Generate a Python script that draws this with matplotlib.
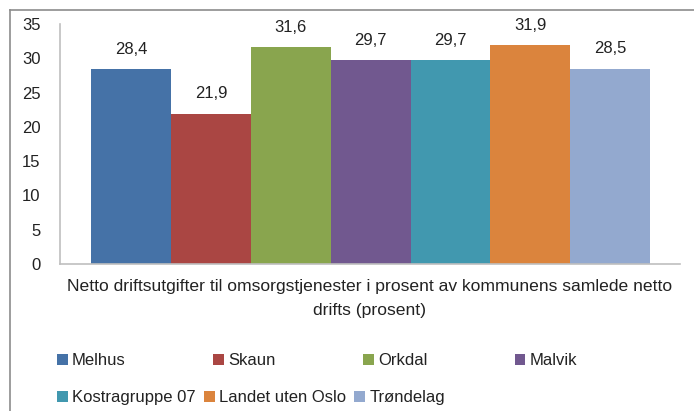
import matplotlib
matplotlib.use('Agg')
import matplotlib.pyplot as plt
from matplotlib.lines import Line2D

# data
categories = ['Melhus', 'Skaun', 'Orkdal', 'Malvik', 'Kostragruppe 07',
              'Landet uten Oslo', 'Trøndelag']
values = [28.4, 21.9, 31.6, 29.7, 29.7, 31.9, 28.5]
colors = ['#4572A7', '#AA4643', '#89A54E', '#71588F', '#4198AF',
          '#DB843D', '#93A9CF']
xlabel = 'Netto driftsutgifter til omsorgstjenester i prosent av kommunens samlede netto\ndrifts (prosent)'
yticks = [0, 5, 10, 15, 20, 25, 30, 35]

plt.rcParams['font.family'] = ['Liberation Sans Narrow', 'Liberation Sans', 'DejaVu Sans']

fig = plt.figure(figsize=(6.94, 4.11), dpi=100)
ax = fig.add_axes([60 / 694, 1 - 264 / 411, 620 / 694, 240 / 411])

x = list(range(len(values)))
bars = ax.bar(x, values, width=1.0, color=colors, edgecolor='none')

for xi, v in zip(x, values):
    ax.annotate(f'{v:.1f}'.replace('.', ','), (xi, v), xytext=(0, 9),
                textcoords='offset points', ha='center', va='bottom',
                fontsize=12, color='#222222')

ax.set_ylim(0, 35)
ax.set_xlim(-0.89, 6.875)
ax.set_yticks(yticks)
ax.set_xticks([])
ax.tick_params(axis='y', length=0, labelsize=12, pad=14, labelcolor='#222222')
for s in ['top', 'right']:
    ax.spines[s].set_visible(False)
for s in ['left', 'bottom']:
    ax.spines[s].set_color('#BFBFBF')
    ax.spines[s].set_linewidth(1.2)
ax.set_xlabel(xlabel, fontsize=12.6, color='#222222', labelpad=11, linespacing=1.7)

# legend, two rows like excel
h = list(bars.patches)
kw = dict(frameon=False, fontsize=12, handlelength=0.65, handleheight=0.65,
          handletextpad=0.25, borderaxespad=0, borderpad=0, labelcolor='#222222')
leg1 = fig.legend(h[:4], categories[:4], ncol=4, mode='expand',
                  bbox_to_anchor=(57 / 694, 1 - 368 / 411, 520 / 694, 20 / 411),
                  loc='lower left', **kw)
leg2 = fig.legend(h[4:], categories[4:], ncol=3, columnspacing=0.5,
                  bbox_to_anchor=(57 / 694, 1 - 405 / 411),
                  loc='lower left', **kw)

# outer frame
fig.add_artist(Line2D([10 / 694, 1], [1 - 10 / 411, 1 - 10 / 411],
                      transform=fig.transFigure, color='#8C8C8C', lw=1.2))
fig.add_artist(Line2D([10 / 694, 10 / 694], [0, 1 - 10 / 411],
                      transform=fig.transFigure, color='#8C8C8C', lw=1.2))

fig.savefig('out.png', dpi=100)
